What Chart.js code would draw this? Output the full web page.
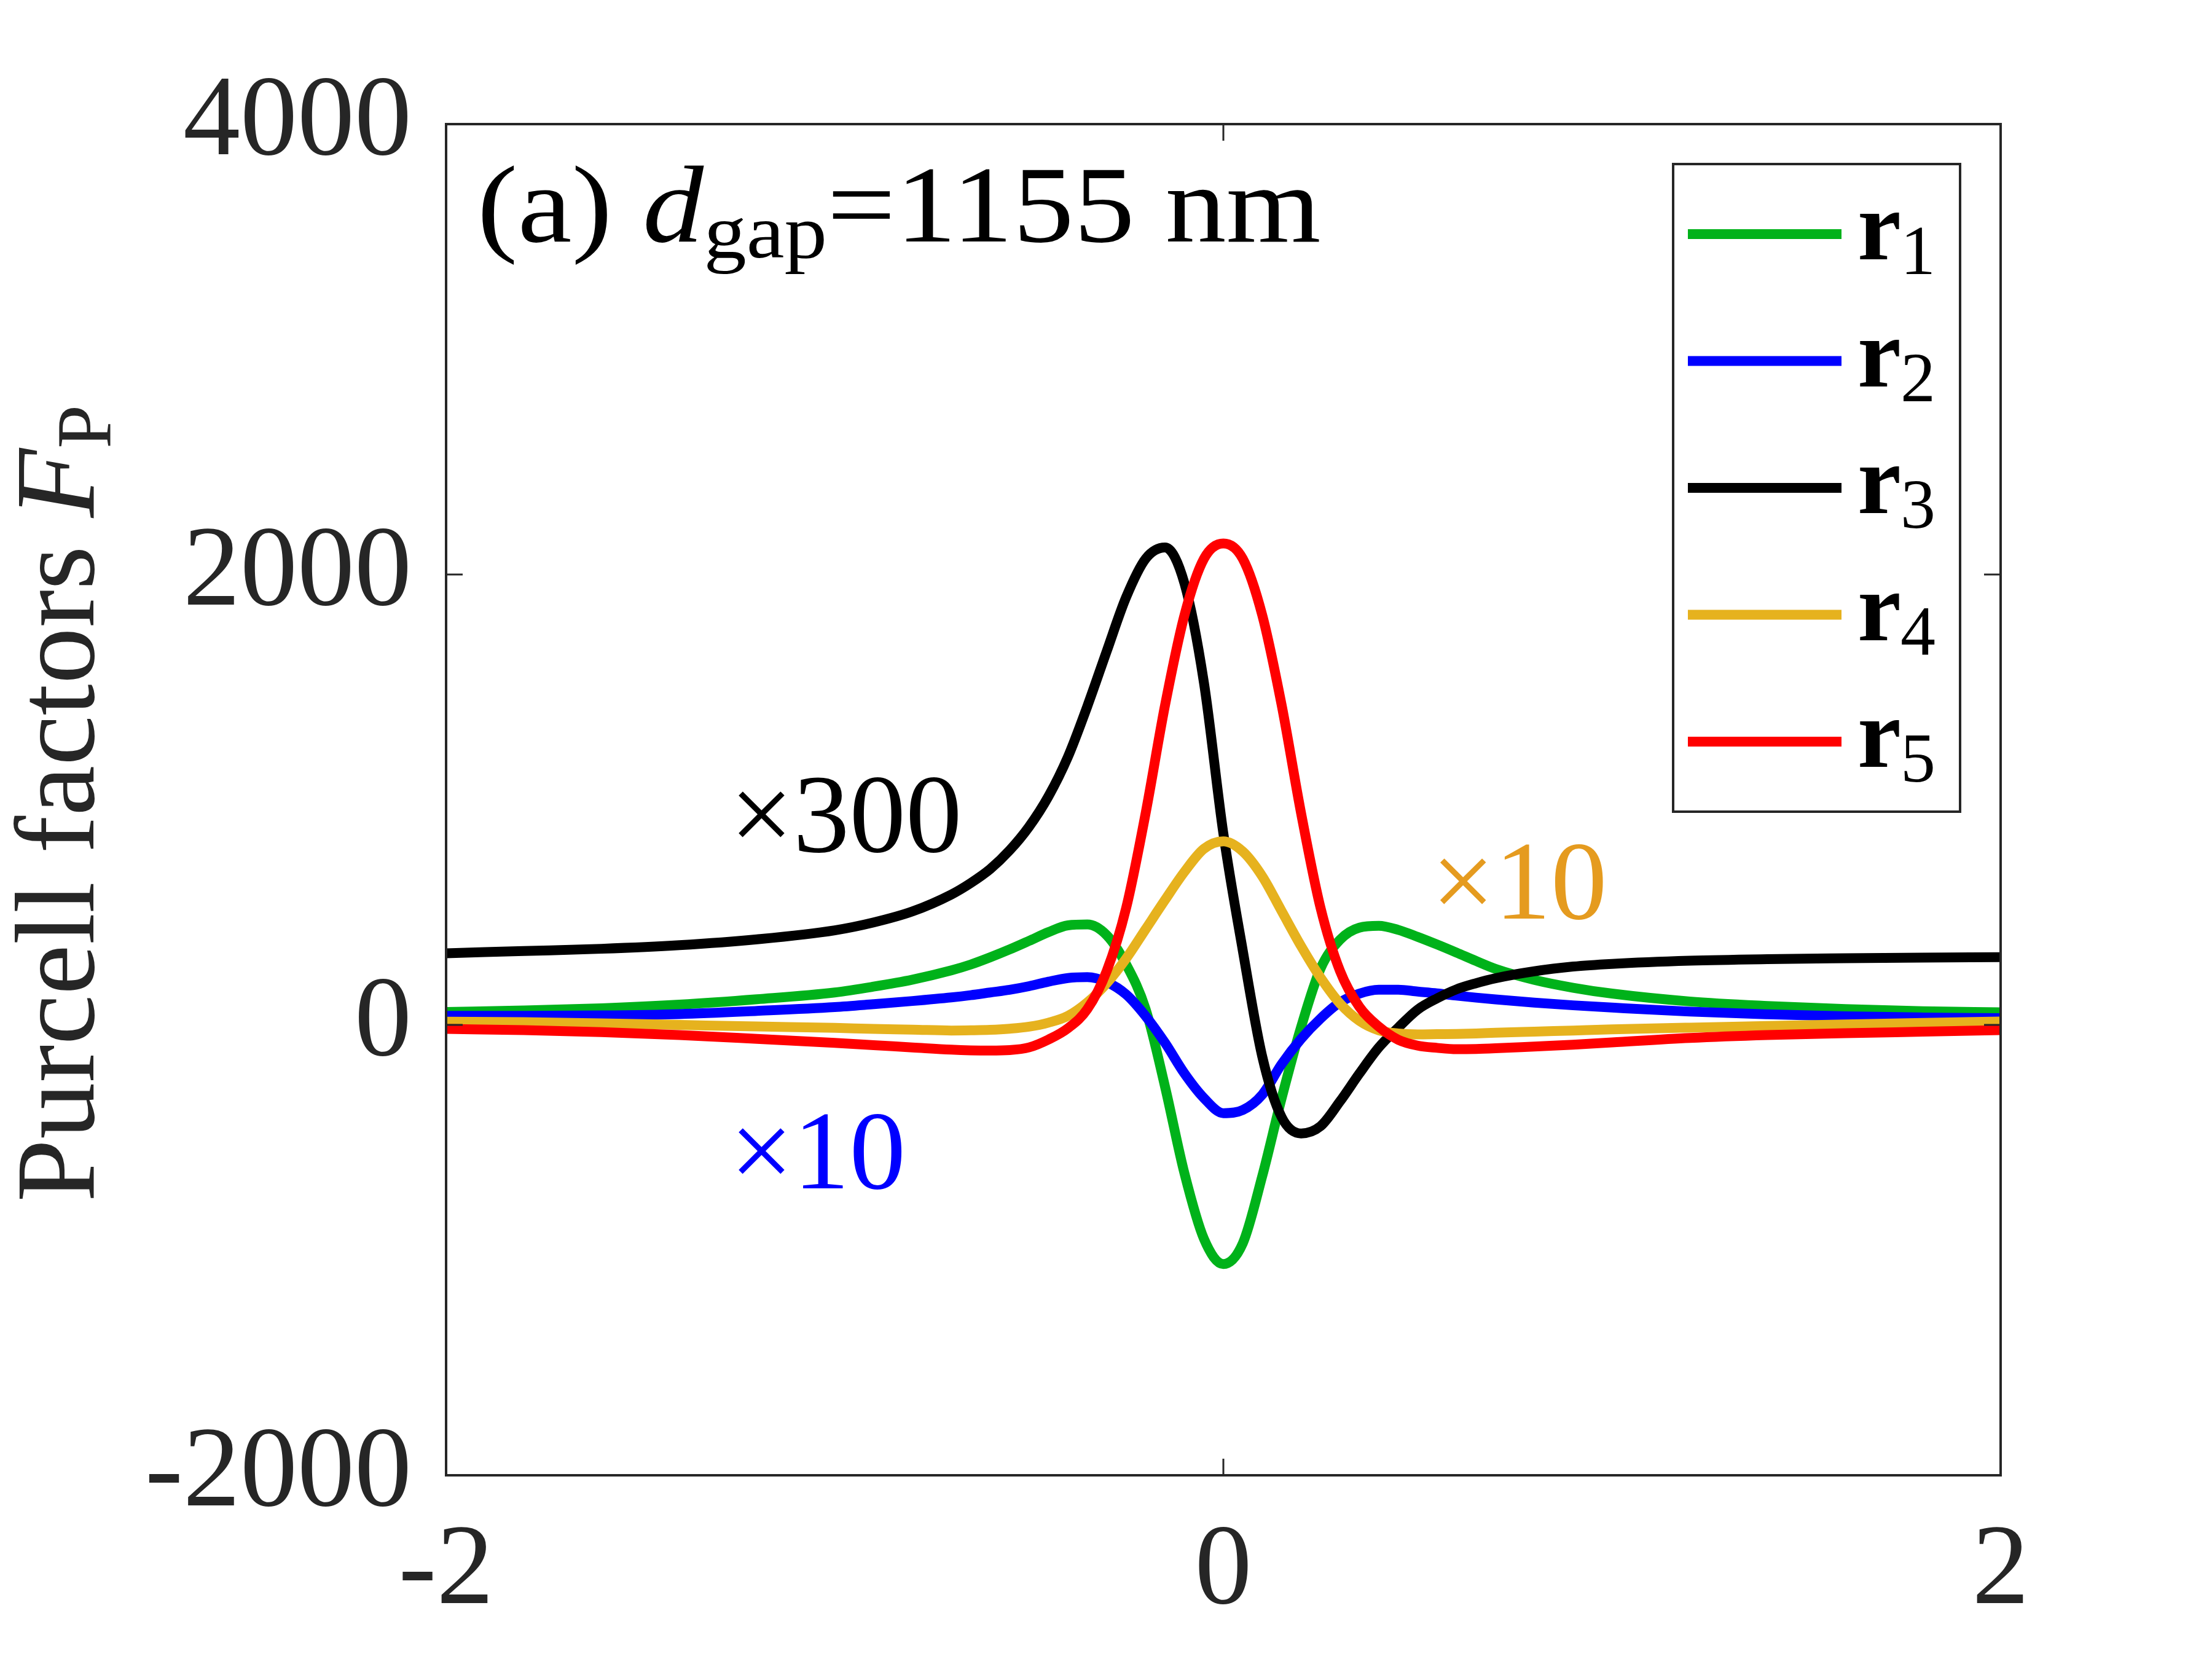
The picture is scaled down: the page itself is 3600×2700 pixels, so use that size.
<!DOCTYPE html>
<html>
<head>
<meta charset="utf-8">
<script src="https://cdn.jsdelivr.net/npm/chart.js@4.4.1/dist/chart.umd.min.js"></script>
<style>
  html, body { margin: 0; padding: 0; background: #fff; }
  canvas { display: block; }
</style>
</head>
<body>
<canvas id="myChart" width="3600" height="2700"></canvas>
<script>
// x positions (same for every curve)
var xValues = [-2, -1.8, -1.6, -1.4, -1.2, -1.0, -0.9, -0.8, -0.7, -0.65, -0.6, -0.55, -0.5, -0.45, -0.4, -0.35, -0.3, -0.25, -0.2, -0.15, -0.1, -0.05,
               0, 0.05, 0.1, 0.15, 0.2, 0.25, 0.3, 0.35, 0.4, 0.45, 0.5, 0.55, 0.6, 0.65, 0.7, 0.8, 0.9, 1.0, 1.2, 1.4, 1.6, 1.8, 2.0];

// Purcell factors (r2, r4 shown x10, r3 shown x300)
var r1Values = [57, 64, 74, 90, 114, 144, 170, 201, 242, 268, 300, 335, 373, 412, 442, 446, 398, 268, 70, -275, -660, -950,
                -1062, -970, -672, -325, -10, 250, 378, 432, 440, 422, 391, 357, 321, 284, 249, 200, 165, 139, 104, 84, 70, 61, 56];
var r2Values = [40, 40, 42, 48, 62, 79, 92, 106, 122, 132, 144, 156, 172, 192, 208, 212, 190, 135, 39, -80, -216, -325,
                -392, -378, -310, -174, -62, 28, 100, 139, 156, 156, 148, 140, 130, 121, 113, 99, 87, 77, 59, 47, 38, 33, 30];
var r3Values = [318, 328, 338, 354, 380, 420, 455, 504, 579, 630, 692, 775, 880, 1015, 1190, 1415, 1660, 1900, 2070, 2120, 1960, 1520,
                850, 330, -140, -410, -482, -450, -340, -216, -100, -12, 68, 118, 158, 185, 207, 238, 259, 271, 285, 292, 296, 299, 301];
var r4Values = [14, 12, 7, 0, -7, -13, -18, -21, -25, -24, -22, -17, -8, 10, 40, 100, 185, 295, 425, 555, 680, 782,
                815, 770, 660, 505, 350, 210, 95, 18, -24, -38, -42, -41, -40, -38, -35, -30, -25, -20, -12, -5, 2, 9, 15];
var r5Values = [-18, -23, -32, -45, -62, -80, -90, -100, -110, -113, -114, -112, -100, -65, -15, 70, 240, 520, 940, 1420, 1820, 2070,
                2138, 2070, 1820, 1420, 940, 520, 240, 80, -8, -66, -92, -102, -108, -107, -104, -96, -88, -78, -58, -45, -37, -30, -23];

var seriesIndex = ['1', '2', '3', '4', '5'];
var seriesColors = ['rgb(0,178,26)', 'rgb(0,0,255)', 'rgb(0,0,0)', 'rgb(230,178,30)', 'rgb(255,0,0)'];

var yTicks = [-2000, 0, 2000, 4000];
var yTickLabels = ['-2000', '0', '2000', '4000'];
var xTicks = [-2, 0, 2];
var xTickLabels = ['-2', '0', '2'];

var axisColor = '#262626';
var serif = '"Liberation Serif", "DejaVu Serif", serif';

function toPoints(vals) {
    return xValues.map(function (x, i) { return { x: x, y: vals[i] }; });
}

var allValues = [r1Values, r2Values, r3Values, r4Values, r5Values];
var datasets = allValues.map(function (vals, i) {
    return {
        label: 'r' + seriesIndex[i],
        data: toPoints(vals),
        borderColor: seriesColors[i],
        backgroundColor: seriesColors[i],
        borderWidth: 16,
        pointRadius: 0,
        cubicInterpolationMode: 'monotone',
        fill: false,
        borderJoinStyle: 'round',
        order: 5 - i
    };
});

// draw a run of text pieces with mixed fonts
function drawRuns(ctx, runs, x, y, stretch) {
    var w = 0;
    runs.forEach(function (r) { ctx.font = r.font; r.w = ctx.measureText(r.text).width; w += r.w; });
    ctx.save();
    ctx.translate(x, y);
    ctx.scale(stretch || 1, 1);
    var cx = 0;
    runs.forEach(function (r) {
        ctx.font = r.font;
        ctx.fillStyle = r.color || '#000';
        ctx.textBaseline = 'alphabetic';
        ctx.textAlign = 'left';
        ctx.fillText(r.text, cx, r.dy || 0);
        cx += r.w;
    });
    ctx.restore();
    return w;
}

var boxPlugin = {
    id: 'matlabBox',
    afterDatasetsDraw: function (chart) {
        var ctx = chart.ctx, a = chart.chartArea;
        var xs = chart.scales.x, ys = chart.scales.y;
        var tl = 27;
        ctx.save();
        ctx.strokeStyle = axisColor;
        ctx.lineWidth = 3;
        ctx.beginPath();
        xTicks.forEach(function (v) {
            var px = xs.getPixelForValue(v);
            ctx.moveTo(px, a.bottom); ctx.lineTo(px, a.bottom - tl);
            ctx.moveTo(px, a.top); ctx.lineTo(px, a.top + tl);
        });
        yTicks.forEach(function (v) {
            var py = ys.getPixelForValue(v);
            ctx.moveTo(a.left, py); ctx.lineTo(a.left + tl, py);
            ctx.moveTo(a.right, py); ctx.lineTo(a.right - tl, py);
        });
        ctx.stroke();
        ctx.lineWidth = 4;
        ctx.strokeRect(a.left, a.top, a.right - a.left, a.bottom - a.top);
        ctx.restore();
    }
};

var textPlugin = {
    id: 'figureText',
    afterDraw: function (chart) {
        var ctx = chart.ctx, a = chart.chartArea;
        var xs = chart.scales.x, ys = chart.scales.y;

        // panel label
        var big = '178px ' + serif;
        var runs = [
            { text: '(a) ', font: big },
            { text: 'd', font: 'italic ' + big },
            { text: 'gap', font: '125px ' + serif, dy: 26 },
            { text: '=1155 nm', font: big }
        ];
        ctx.save();
        var w = 0;
        runs.forEach(function (r) { ctx.font = r.font; w += ctx.measureText(r.text).width; });
        ctx.restore();
        drawRuns(ctx, runs, xs.getPixelForValue(-1.92), ys.getPixelForValue(3479), 1373 / w);

        // scale notes
        var noteFont = '183px ' + serif;
        drawRuns(ctx, [{ text: '\u00d7300', font: noteFont, color: '#000' }], xs.getPixelForValue(-1.27), ys.getPixelForValue(769));
        drawRuns(ctx, [{ text: '\u00d710', font: noteFont, color: '#0000ff' }], xs.getPixelForValue(-1.27), ys.getPixelForValue(-726));
        drawRuns(ctx, [{ text: '\u00d710', font: noteFont, color: 'rgb(229,155,31)' }], xs.getPixelForValue(0.535), ys.getPixelForValue(473));

        // y axis title
        var tf = '184px ' + serif;
        var truns = [
            { text: 'Purcell factors ', font: tf, color: axisColor },
            { text: 'F', font: 'italic ' + tf, color: axisColor },
            { text: 'P', font: '128px ' + serif, color: axisColor, dy: 28 }
        ];
        ctx.save();
        var tw = 0;
        truns.forEach(function (r) { ctx.font = r.font; tw += ctx.measureText(r.text).width; });
        ctx.translate(152, (a.top + a.bottom) / 2 + 6);
        ctx.rotate(-Math.PI / 2);
        drawRuns(ctx, truns, -tw / 2, 0);
        ctx.restore();

        // legend
        var bx = a.right - 533, by = a.top + 65, bw = 467, bh = 1054;
        ctx.save();
        ctx.fillStyle = '#fff';
        ctx.fillRect(bx, by, bw, bh);
        ctx.strokeStyle = axisColor;
        ctx.lineWidth = 4;
        ctx.strokeRect(bx, by, bw, bh);
        chart.data.datasets.forEach(function (ds, i) {
            var ly = by + 114 + i * 206.5;
            ctx.strokeStyle = ds.borderColor;
            ctx.lineWidth = 16;
            ctx.beginPath();
            ctx.moveTo(bx + 24, ly);
            ctx.lineTo(bx + 274, ly);
            ctx.stroke();
            drawRuns(ctx, [{ text: 'r', font: 'bold 160px ' + serif }], bx + 300, ly + 41);
            drawRuns(ctx, [{ text: seriesIndex[i], font: '114px ' + serif }], bx + 370, ly + 65);
        });
        ctx.restore();
    }
};

var ctx = document.getElementById('myChart');
var myChart = new Chart(ctx, {
    type: 'line',
    data: { datasets: datasets },
    plugins: [boxPlugin, textPlugin],
    options: {
        responsive: false,
        animation: false,
        devicePixelRatio: 1,
        layout: { padding: { top: 202, right: 344, left: 0, bottom: 0 } },
        plugins: {
            legend: { display: false },
            tooltip: { enabled: false },
            title: { display: false }
        },
        scales: {
            x: {
                type: 'linear',
                min: -2,
                max: 2,
                afterFit: function (s) { s.height = 299; },
                afterBuildTicks: function (s) { s.ticks = xTicks.map(function (v) { return { value: v }; }); },
                grid: { display: false, drawTicks: false },
                border: { display: false },
                ticks: {
                    padding: 48,
                    color: axisColor,
                    font: { family: serif, size: 186 },
                    maxRotation: 0,
                    autoSkip: false,
                    callback: function (v) { return xTickLabels[xTicks.indexOf(v)]; }
                }
            },
            y: {
                type: 'linear',
                min: -2000,
                max: 4000,
                afterFit: function (s) { s.width = 726; },
                afterBuildTicks: function (s) { s.ticks = yTicks.map(function (v) { return { value: v }; }); },
                grid: { display: false, drawTicks: false },
                border: { display: false },
                ticks: {
                    padding: 56,
                    color: axisColor,
                    font: { family: serif, size: 186 },
                    autoSkip: false,
                    callback: function (v) { return yTickLabels[yTicks.indexOf(v)]; }
                }
            }
        }
    }
});
</script>
</body>
</html>
